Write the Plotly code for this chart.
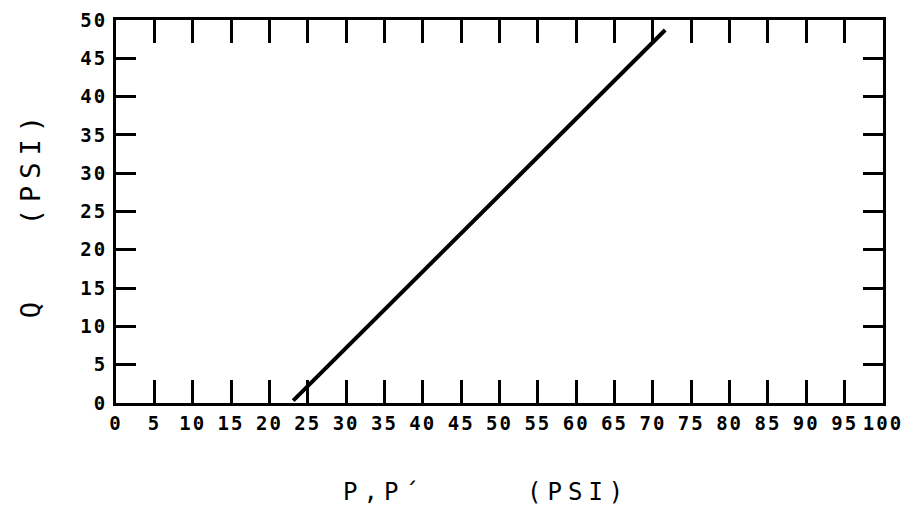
import plotly.graph_objects as go

# data
line_p = [23.1, 71.6]
line_q = [0.3, 48.7]
x_tick_vals = [0, 5, 10, 15, 20, 25, 30, 35, 40, 45, 50, 55, 60, 65, 70, 75, 80, 85, 90, 95, 100]
x_tick_text = ["0", "5", "10", "15", "20", "25", "30", "35", "40", "45", "50", "55", "60", "65", "70", "75", "80", "85", "90", "95", "100"]
y_tick_vals = [0, 5, 10, 15, 20, 25, 30, 35, 40, 45, 50]
y_tick_text = ["0", "5", "10", "15", "20", "25", "30", "35", "40", "45", "50"]
x_title = "P,P´     (PSI)"
y_title = "Q   (PSI)"

# page body has an 8px margin, so the figure is sized to fit inside the window
W, H = 902, 516
L, R, T, B = 108, 27, 12, 121

def spaced(s, px):
    return '<span style="letter-spacing:%dpx">%s</span>' % (px, s)

fig = go.Figure()
fig.add_trace(go.Scatter(x=line_p, y=line_q, mode="lines",
                         line=dict(color="black", width=4), showlegend=False,
                         hoverinfo="skip"))

tickfont = dict(family="DejaVu Sans Mono", size=19, color="black", weight="bold")

fig.update_layout(
    width=W, height=H,
    margin=dict(l=L, r=R, t=T, b=B, autoexpand=False),
    paper_bgcolor="white", plot_bgcolor="white",
    xaxis=dict(range=[0, 100], tickvals=x_tick_vals,
               ticktext=[spaced(t, 2) for t in x_tick_text],
               ticks="inside", ticklen=23, tickwidth=3, tickcolor="black",
               showline=True, linecolor="black", linewidth=3, mirror="ticks",
               showgrid=False, zeroline=False, tickfont=tickfont, ticklabelstandoff=1,
               ticklabeloverflow="allow"),
    yaxis=dict(range=[0, 50], tickvals=y_tick_vals,
               ticktext=[spaced(t, 2) for t in y_tick_text],
               ticks="inside", ticklen=20, tickwidth=3, tickcolor="black",
               showline=True, linecolor="black", linewidth=3, mirror="ticks",
               showgrid=False, zeroline=False, tickfont=tickfont, ticklabelstandoff=2,
               ticklabeloverflow="allow"),
    annotations=[
        dict(text=spaced(x_title, 6),
             xref="paper", yref="paper", x=0.483, y=-0.232,
             xanchor="center", yanchor="middle", showarrow=False,
             font=dict(family="DejaVu Sans Mono", size=24, color="black")),
        dict(text=spaced(y_title, 7),
             xref="paper", yref="paper", x=-0.111, y=0.495, textangle=-90,
             xanchor="center", yanchor="middle", showarrow=False,
             font=dict(family="DejaVu Sans Mono", size=27, color="black")),
    ],
)

fig.write_html("out.html")
